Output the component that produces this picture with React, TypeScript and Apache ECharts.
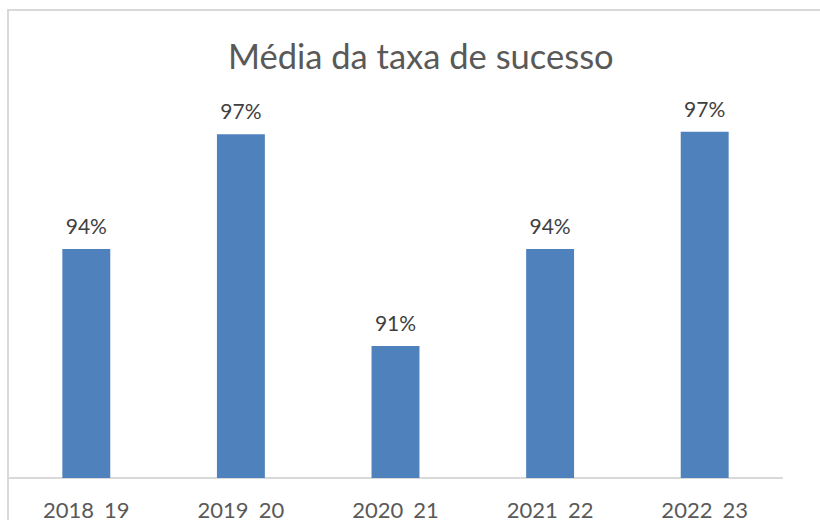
import React, { useEffect, useRef } from "react";
import * as echarts from "echarts";

const categories = ["2018_19", "2019_20", "2020_21", "2021_22", "2022_23"];
const successRate = [0.9394, 0.9742, 0.91, 0.9394, 0.9749];
const titleText = "Média da taxa de sucesso";

export default function App() {
  const ref = useRef<HTMLDivElement>(null);
  useEffect(() => {
    if (!ref.current) return;
    const chart = echarts.init(ref.current, null, { renderer: "svg" });
    chart.setOption({
      animation: false,
      backgroundColor: "#ffffff",
      title: {
        text: titleText,
        left: 223,
        top: 33,
        textStyle: { fontFamily: "Lato", fontSize: 34.5, fontWeight: "normal", color: "#595959" },
      },
      graphic: [
        {
          type: "rect",
          shape: { x: 8, y: 10, width: 840, height: 540 },
          style: { fill: "none", stroke: "#d9d9d9", lineWidth: 2 },
          silent: true,
          z: -1,
        },
      ],
      grid: { left: 9, right: 38, top: 49, bottom: 37, containLabel: false },
      xAxis: {
        type: "category",
        data: categories,
        axisLine: { lineStyle: { color: "#d9d9d9", width: 2 } },
        axisTick: { show: false },
        axisLabel: { fontFamily: "Lato", fontSize: 22, color: "#595959", margin: 20 },
      },
      yAxis: {
        type: "value",
        min: 0.87,
        max: 1.0,
        show: false,
        splitLine: { show: false },
      },
      series: [
        {
          type: "bar",
          data: successRate,
          barWidth: "31%",
          itemStyle: { color: "#4f81bd" },
          label: {
            show: true,
            position: "top",
            distance: 13,
            fontFamily: "Lato",
            fontSize: 21,
            color: "#404040",
            formatter: (p: any) => Math.round(p.value * 100) + "%",
          },
        },
      ],
    });
    return () => chart.dispose();
  }, []);
  return <div ref={ref} style={{ position: "fixed", left: 0, top: 0, width: 820, height: 520 }} />;
}
